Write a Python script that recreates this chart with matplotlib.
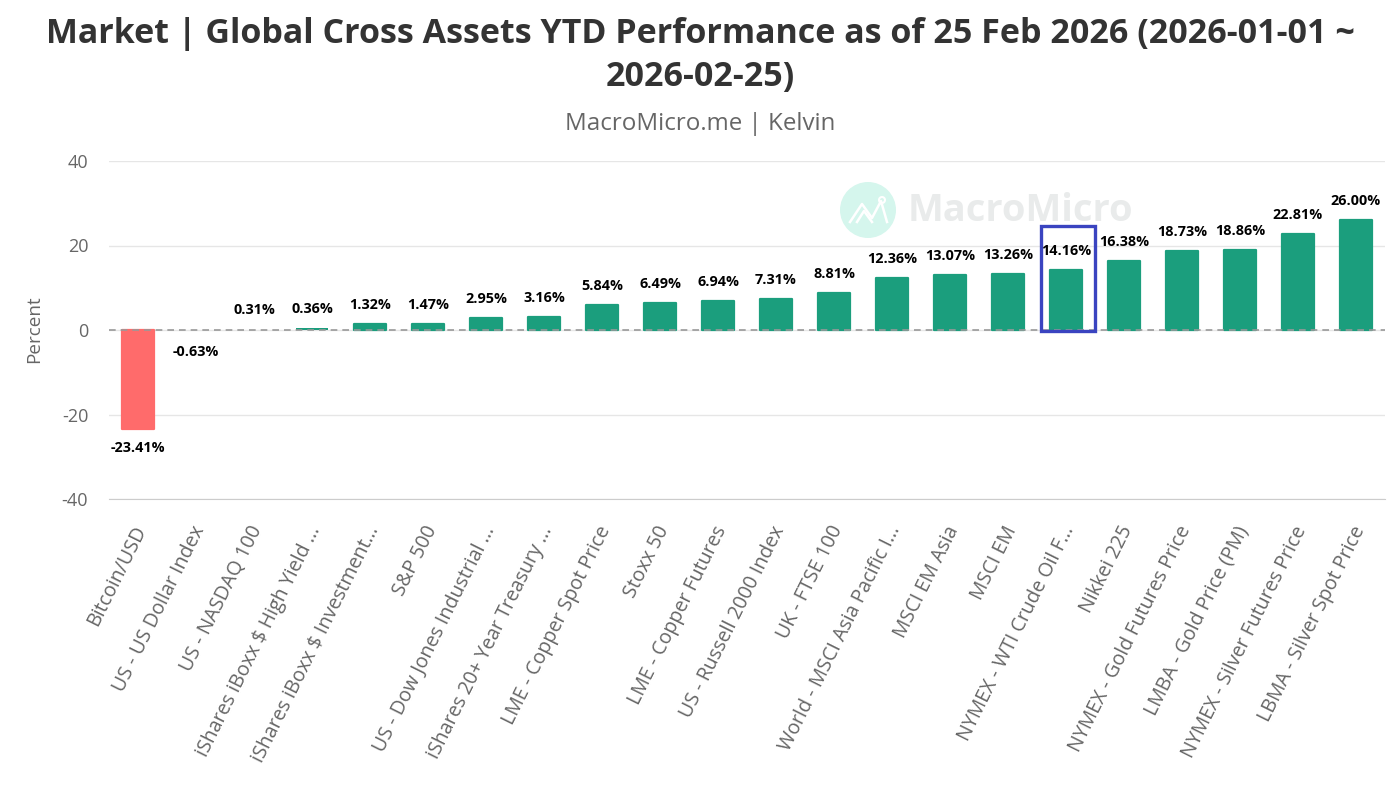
import matplotlib
matplotlib.use("Agg")
import matplotlib.pyplot as plt
from matplotlib.patches import Circle, Rectangle
from matplotlib.transforms import ScaledTranslation

# data
categories = [
    "Bitcoin/USD", "US - US Dollar Index", "US - NASDAQ 100",
    "iShares iBoxx $ High Yield ...", "iShares iBoxx $ Investment...",
    "S&P 500", "US - Dow Jones Industrial ...", "iShares 20+ Year Treasury ...",
    "LME - Copper Spot Price", "Stoxx 50", "LME - Copper Futures",
    "US - Russell 2000 Index", "UK - FTSE 100", "World - MSCI Asia Pacific I...",
    "MSCI EM Asia", "MSCI EM", "NYMEX - WTI Crude Oil F...", "Nikkei 225",
    "NYMEX - Gold Futures Price", "LMBA - Gold Price (PM)",
    "NYMEX - Silver Futures Price", "LBMA - Silver Spot Price",
]
values = [
    -23.41, -0.63, 0.31, 0.36, 1.32, 1.47, 2.95, 3.16, 5.84, 6.49, 6.94,
    7.31, 8.81, 12.36, 13.07, 13.26, 14.16, 16.38, 18.73, 18.86, 22.81, 26.00,
]
y_ticks = [-40, -20, 0, 20, 40]
# these two leave no visible bar in the reference, only a label
no_fill = ["US - US Dollar Index", "US - NASDAQ 100"]

W, H = 1400, 787
GREEN = "#1b9e7d"
RED = "#ff6b6b"
GRAY = "#666666"

plt.rcParams["font.family"] = ["Open Sans", "DejaVu Sans"]
plt.rcParams["axes.unicode_minus"] = False

fig = plt.figure(figsize=(W / 100, H / 100), dpi=100)
ax = fig.add_axes([109 / W, 1 - 499 / H, (1385 - 109) / W, (499 - 161) / H])


def px(x, y):
    # pixel position (from the top left) -> figure fraction
    return x / W, 1 - y / H


# watermark sits behind the chart
fig.patches.append(Circle((868, H - 210), 28, transform=None,
                          facecolor="#d5f6ed", edgecolor="none", zorder=0))
fig.lines.append(plt.Line2D([850, 862, 872, 881, 887], [H - 222, H - 204, H - 218, H - 201, H - 222],
                            transform=None, color="white", lw=1.8, zorder=0.5))
fig.lines.append(plt.Line2D([857, 864, 872], [H - 222, H - 211, H - 222],
                            transform=None, color="white", lw=1.8, zorder=0.5))
fig.patches.append(Circle((882, H - 200), 3, transform=None,
                          facecolor="none", edgecolor="white", lw=1.5, zorder=0.5))
fig.text(*px(908, 211), "MacroMicro", fontsize=27.4, fontweight="bold",
         color="#e9ebeb", ha="left", va="center", zorder=0)
ax.patch.set_alpha(0)

xs = list(range(len(values)))
colors = [RED if v < 0 else GREEN for v in values]
for i, name in enumerate(categories):
    if name in no_fill:
        colors[i] = "none"
# thin round edge gives the small corner radius, skipped on the tiny bars
widths = [1.6 if abs(v) > 1 else 0 for v in values]
ax.bar(xs, values, width=0.56, color=colors, edgecolor=colors,
       linewidth=widths, joinstyle="round", zorder=2)

for x, v in zip(xs, values):
    offset = -19 if v < 0 else 19
    ax.annotate(f"{v:.2f}%", (x, v), xytext=(0, offset * 0.72),
                textcoords="offset points", ha="center", va="center",
                fontsize=10.4, fontweight="bold", color="black", zorder=4)

ax.axhline(0, color="#999999", lw=1.2, ls=(0, (4, 3)), zorder=3)

ax.set_xlim(-0.5, len(values) - 0.5)
ax.set_ylim(-40, 40)
ax.set_yticks(y_ticks)
ax.yaxis.grid(True, color="#e6e6e6", lw=1)
ax.set_axisbelow(True)
for side in ["top", "right", "left"]:
    ax.spines[side].set_visible(False)
ax.spines["bottom"].set_color("#cccccc")
ax.tick_params(axis="y", length=0, pad=15, labelsize=13, labelcolor=GRAY)
ax.tick_params(axis="x", length=0, pad=17)
ax.set_xticks(xs)
ax.set_xticklabels(categories, rotation=63.5, ha="right", va="top",
                   rotation_mode="anchor", fontsize=14.1, color=GRAY)
# nudge the slanted labels left, they hang a bit off their bars
shift = ScaledTranslation(-5 / 72 * 0.72, 0, fig.dpi_scale_trans)
for lab in ax.get_xticklabels():
    lab.set_transform(lab.get_transform() + shift)
fig.text(*px(34, 329), "Percent", rotation=90, ha="center", va="center",
         fontsize=13.6, color=GRAY)

# highlight box around the crude oil bar
fig.patches.append(Rectangle((1040.5, H - 331), 54, 105, transform=None,
                             facecolor="none", edgecolor="#3a44c0", lw=2.4, zorder=5))

fig.text(*px(700, 34), "Market | Global Cross Assets YTD Performance as of 25 Feb 2026 (2026-01-01 ~",
         ha="center", va="center", fontsize=24.5, fontweight="bold", color="#333333")
fig.text(*px(700, 77), "2026-02-25)", ha="center", va="center",
         fontsize=24.5, fontweight="bold", color="#333333")
fig.text(*px(700, 124), "MacroMicro.me | Kelvin", ha="center", va="center",
         fontsize=17.4, color=GRAY)

fig.savefig("out.png", dpi=100)
